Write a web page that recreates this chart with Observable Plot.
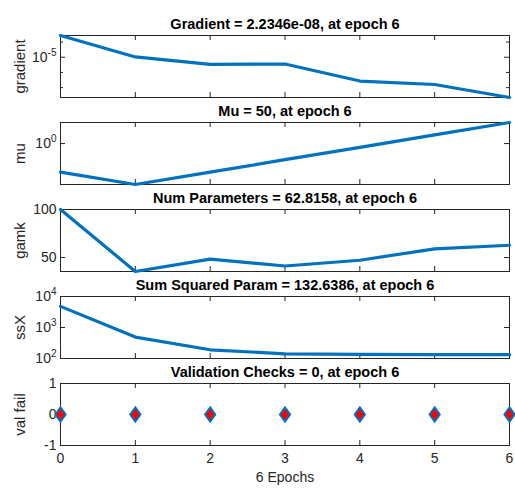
<!DOCTYPE html>
<html><head><meta charset="utf-8">
<script src="https://cdn.jsdelivr.net/npm/d3@7"></script>
<script src="https://cdn.jsdelivr.net/npm/@observablehq/plot@0.6"></script>
<style>
body{margin:0;background:#fff;}
#chart{width:515px;height:489px;padding-top:10px;box-sizing:border-box;background:#fff}
#chart svg{display:block;overflow:visible}
</style></head><body><div id="chart"></div>
<script>
// ---- data ----
const epochs = [0, 1, 2, 3, 4, 5, 6];
const gradient = [2.7e-4, 1.05e-5, 3.4e-6, 3.6e-6, 2.7e-7, 1.6e-7, 2.2346e-8];
const mu = [0.005, 0.0005, 0.005, 0.05, 0.5, 5, 50];
const gamk = [100, 35.5, 48.3, 41.2, 47.2, 59.1, 62.8158];
const ssX = [4800, 490, 191, 142, 135, 133, 132.6386];
const valFail = [0, 0, 0, 0, 0, 0, 0];

const titles = [
  "Gradient = 2.2346e-08, at epoch 6",
  "Mu = 50, at epoch 6",
  "Num Parameters = 62.8158, at epoch 6",
  "Sum Squared Param = 132.6386, at epoch 6",
  "Validation Checks = 0, at epoch 6"
];
const yLabels = ["gradient", "mu", "gamk", "ssX", "val fail"];
const xLabel = "6 Epochs";

const gradTicks = [1e-5], gradMinor = [1e-4, 1e-6, 1e-7];
const muTicks = [1];
const gamkTicks = [50, 100];
const ssXTicks = [100, 1000, 10000];
const valTicks = [-1, 0, 1];

// ---- drawing ----
const W = 515, ML = 60, MR = 6, MT = 25, FH = 62;
const FW = W - ML - MR;
const FONT = "'Liberation Sans', Arial, Helvetica, sans-serif";
const INK = "#262626";
const BLUE = "#0072BD";

const diamond = {
  draw(ctx, size) {
    const h = Math.sqrt(size) * 0.8, w = h * 0.72;
    ctx.moveTo(0, -h); ctx.lineTo(w, 0); ctx.lineTo(0, h); ctx.lineTo(-w, 0); ctx.closePath();
  }
};

function logFmt(d) { return "10^" + Math.round(Math.log10(d)); }

function panel(cfg) {
  const {values, type, domain, ticks, minor = [], fmt, title, label, last, markers} = cfg;
  const data = epochs.map((e, i) => ({epoch: e, value: values[i]}));
  const marks = [
    Plot.frame({stroke: INK, strokeWidth: 1}),
    Plot.tickX(epochs, {x: d => d, stroke: INK, insetBottom: FH - 5}),
    Plot.tickX(epochs, {x: d => d, stroke: INK, insetTop: FH - 5}),
    Plot.tickY(ticks, {y: d => d, stroke: INK, insetRight: FW - 5}),
    Plot.tickY(ticks, {y: d => d, stroke: INK, insetLeft: FW - 5}),
    Plot.tickY(minor, {y: d => d, stroke: INK, insetRight: FW - 3}),
    Plot.tickY(minor, {y: d => d, stroke: INK, insetLeft: FW - 3}),
    Plot.axisY(ticks, {tickSize: 0, tickPadding: 4, tickFormat: fmt, fontSize: 14, fill: INK, label: null}),
    Plot.text([title], {text: d => d, frameAnchor: "top", textAnchor: "middle", lineAnchor: "middle", dy: -11, fontSize: 14.5, fontWeight: "bold", fill: "#000"}),
    Plot.text([label], {text: d => d, frameAnchor: "left", textAnchor: "middle", lineAnchor: "middle", rotate: -90, dx: -40, fontSize: 15, fill: INK})
  ];
  if (markers) {
    marks.push(Plot.dot(data, {x: "epoch", y: "value", symbol: diamond, r: 5, fill: "red", stroke: BLUE, strokeWidth: 2}));
  } else {
    marks.push(Plot.line(data, {x: "epoch", y: "value", stroke: BLUE, strokeWidth: 3.2}));
  }
  if (last) {
    marks.push(Plot.axisX(epochs, {tickSize: 0, tickPadding: 8, fontSize: 14, fill: INK, label: null}));
    marks.push(Plot.text([xLabel], {text: d => d, frameAnchor: "bottom", textAnchor: "middle", lineAnchor: "middle", dy: 32, fontSize: 14, fill: INK}));
  }
  const svg = Plot.plot({
    width: W, height: MT + FH + (last ? 44 : 0),
    marginLeft: ML, marginRight: MR, marginTop: MT, marginBottom: last ? 44 : 0,
    style: {fontFamily: FONT, fontSize: "14px", background: "white", overflow: "visible"},
    x: {domain: [0, 6], axis: null},
    y: {type, domain, axis: null},
    marks
  });
  // superscript exponents for log tick labels
  svg.querySelectorAll("text").forEach(t => {
    const m = /^10\^(-?\d+)$/.exec(t.textContent);
    if (m) {
      t.textContent = "10";
      const ts = document.createElementNS("http://www.w3.org/2000/svg", "tspan");
      ts.setAttribute("dy", "-6");
      ts.setAttribute("font-size", "10");
      ts.textContent = m[1];
      t.appendChild(ts);
    }
  });
  return svg;
}

const root = document.getElementById("chart");
root.append(panel({values: gradient, type: "log", domain: [2.2346e-8, 2.7e-4], ticks: gradTicks, minor: gradMinor, fmt: logFmt, title: titles[0], label: yLabels[0]}));
root.append(panel({values: mu, type: "log", domain: [5e-4, 50], ticks: muTicks, fmt: logFmt, title: titles[1], label: yLabels[1]}));
root.append(panel({values: gamk, type: "linear", domain: [35.5, 100], ticks: gamkTicks, fmt: d => String(d), title: titles[2], label: yLabels[2]}));
root.append(panel({values: ssX, type: "log", domain: [100, 10000], ticks: ssXTicks, fmt: logFmt, title: titles[3], label: yLabels[3]}));
root.append(panel({values: valFail, type: "linear", domain: [-1, 1], ticks: valTicks, fmt: d => String(d), title: titles[4], label: yLabels[4], last: true, markers: true}));
</script></body></html>
